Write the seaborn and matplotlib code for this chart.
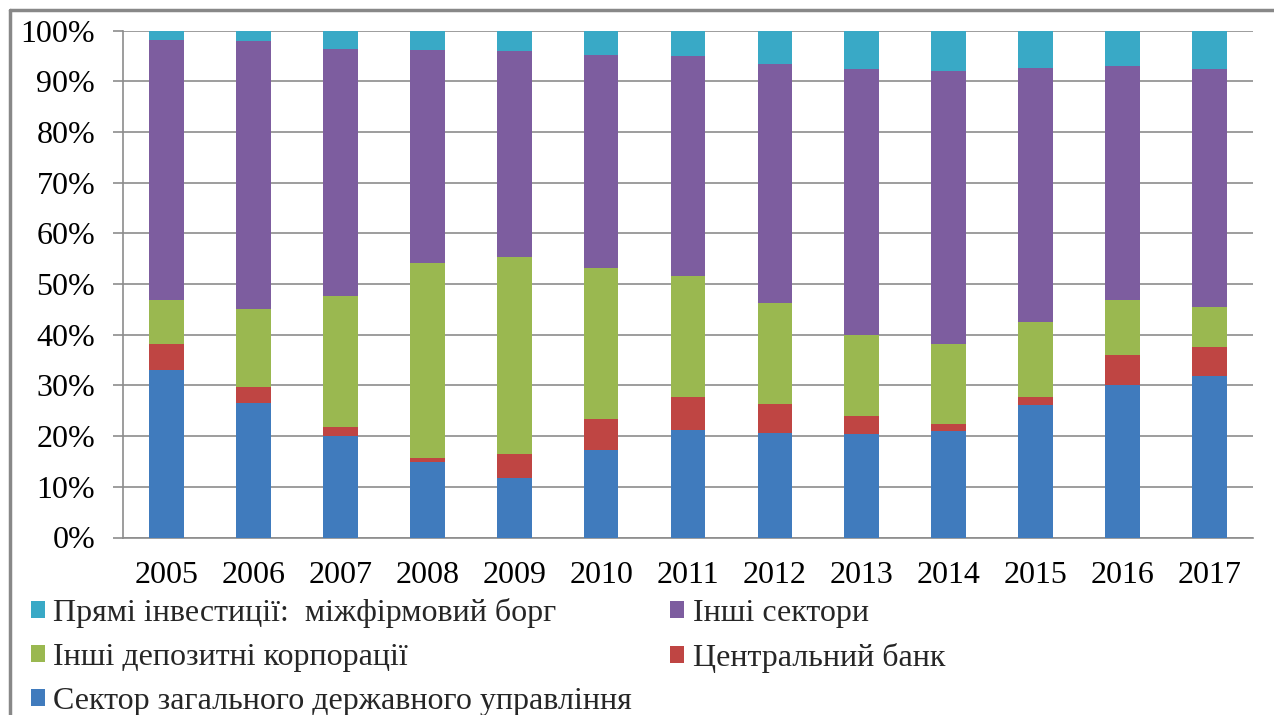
import numpy as np
import pandas as pd
import matplotlib.pyplot as plt
import seaborn as sns
from matplotlib.patches import Patch
from matplotlib.lines import Line2D

years = [str(y) for y in range(2005, 2018)]
# shares, %
gov = [33.0, 26.6, 20.0, 14.9, 11.8, 17.3, 21.3, 20.6, 20.4, 21.0, 26.1, 30.1, 31.9]
central = [5.2, 3.1, 1.7, 0.7, 4.7, 6.1, 6.4, 5.8, 3.5, 1.4, 1.6, 5.9, 5.6]
deposit = [8.6, 15.4, 25.9, 38.6, 38.8, 29.8, 23.9, 19.9, 16.1, 15.8, 14.8, 10.8, 7.9]
other = [51.4, 52.8, 48.8, 41.9, 40.6, 41.9, 43.3, 47.1, 52.4, 53.8, 50.2, 46.1, 47.0]
fdi = [1.8, 2.1, 3.6, 3.9, 4.1, 4.9, 5.1, 6.6, 7.6, 8.0, 7.3, 7.1, 7.6]

names = {
    'gov': 'Сектор загального державного управління',
    'central': 'Центральний банк',
    'deposit': 'Інші депозитні корпорації',
    'other': 'Інші сектори',
    'fdi': 'Прямі інвестиції:  міжфірмовий борг',
}
colors = {
    'gov': '#407bbd',
    'central': '#bf4543',
    'deposit': '#9ab850',
    'other': '#7d5d9f',
    'fdi': '#39a9c6',
}

df = pd.DataFrame({'year': years, 'gov': gov, 'central': central,
                   'deposit': deposit, 'other': other, 'fdi': fdi})
order = ['gov', 'central', 'deposit', 'other', 'fdi']
total = df[order].sum(axis=1)
cum = df[order].div(total, axis=0).mul(100).cumsum(axis=1)
cum['year'] = df['year']

sns.set_theme(style='white')
plt.rcParams['font.family'] = ['Liberation Serif', 'DejaVu Serif']

fig = plt.figure(figsize=(12.74, 7.15), dpi=100)
ax = fig.add_axes([123 / 1274, 1 - 537.5 / 715, 1130 / 1274, 507 / 715])

# stacked bars: draw cumulative totals from the top down
for key in reversed(order):
    sns.barplot(data=cum, x='year', y=key, color=colors[key], width=0.4,
                saturation=1, linewidth=0, errorbar=None, ax=ax, zorder=3)

grey = '#8c8c8c'
ax.set_ylim(0, 100)
ax.set_xlim(-0.5, 12.5)
ax.set_yticks(np.arange(0, 101, 10))
ax.set_yticklabels([f'{v}%' for v in range(0, 101, 10)])
ax.set_xticks(range(len(years)))
ax.set_xticklabels(years)
ax.set_xticks(np.arange(-0.5, 13, 1), minor=True)
ax.set_xlabel('')
ax.set_ylabel('')
ax.yaxis.grid(True, color=grey, lw=1.2)
ax.set_axisbelow(True)
for s in ['top', 'right']:
    ax.spines[s].set_visible(False)
for s in ['left', 'bottom']:
    ax.spines[s].set_color(grey)
    ax.spines[s].set_linewidth(1.2)

ax.tick_params(axis='x', which='major', length=0, pad=17, labelsize=23, colors='black')
ax.tick_params(axis='x', which='minor', length=6, width=1.2, color=grey, direction='out')
ax.tick_params(axis='y', length=7, width=1.2, color=grey, pad=13, labelsize=23,
               labelcolor='black', direction='out', left=True)

leg_keys = ['fdi', 'deposit', 'gov', 'other', 'central']
handles = [Patch(facecolor=colors[k], edgecolor='none', label=names[k]) for k in leg_keys]
fig.legend(handles=handles, loc='upper left', bbox_to_anchor=(31 / 1274, 1 - 598 / 715),
           ncol=2, frameon=False, fontsize=23, handlelength=0.43, handleheight=0.43,
           handletextpad=0.27, labelspacing=0.47, columnspacing=1.2,
           borderpad=0, borderaxespad=0)

# chart-area frame (left and top edges visible)
fig.add_artist(Line2D([10 / 1274, 1], [1 - 10 / 715, 1 - 10 / 715], color='#888888', lw=2.5))
fig.add_artist(Line2D([10 / 1274, 10 / 1274], [0, 1 - 10 / 715], color='#888888', lw=2.5))

fig.savefig('out.png', dpi=100)
